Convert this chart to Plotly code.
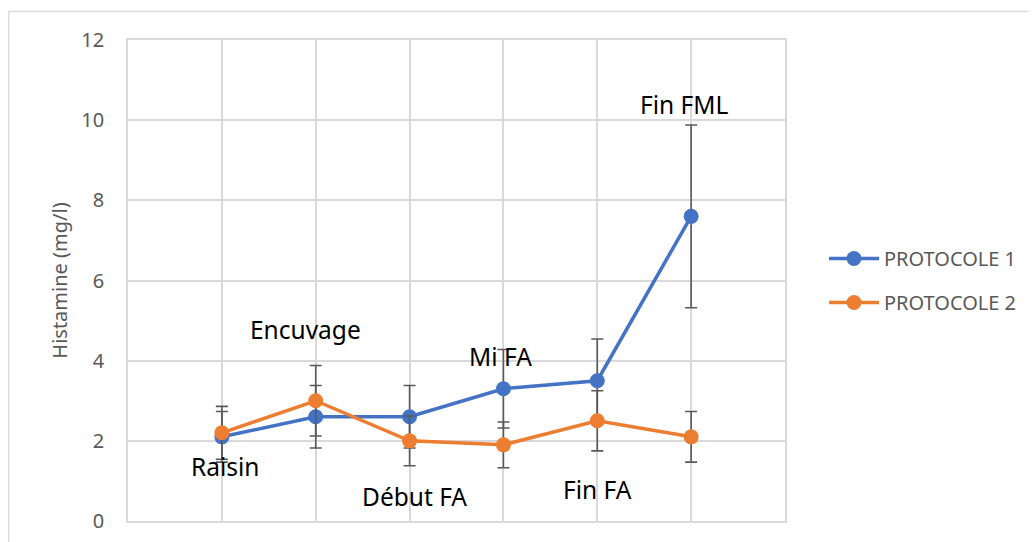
import plotly.graph_objects as go

# ---- data ----
stages = ["Raisin", "Encuvage", "Début FA", "Mi FA", "Fin FA", "Fin FML"]
x_pos = [1, 2, 3, 4, 5, 6]
protocole1 = [2.1, 2.6, 2.6, 3.3, 3.5, 7.6]
protocole1_err = [0.63, 0.78, 0.78, 0.98, 1.04, 2.28]
protocole2 = [2.2, 3.0, 2.0, 1.9, 2.5, 2.1]
protocole2_err = [0.66, 0.88, 0.62, 0.57, 0.75, 0.63]
y_ticks = [0, 2, 4, 6, 8, 10, 12]

# label placement (layout only)
label_y = [1.35, 4.78, 0.6, 4.1, 0.78, 10.4]
label_dx = [4, -10, 5, -3, 0, -7]

FONT = "Noto Sans"
BLUE = "#4472C4"
ORANGE = "#ED7D31"
GRID = "#d9d9d9"
ERR = "#595959"

fig = go.Figure()
for name, vals, errs, col, grp in [
    ("PROTOCOLE 1", protocole1, protocole1_err, BLUE, "g1"),
    ("PROTOCOLE 2", protocole2, protocole2_err, ORANGE, "g2"),
]:
    fig.add_trace(go.Scatter(
        x=x_pos, y=vals, name=name, mode="lines+markers",
        legendgroup=grp,
        line=dict(color=col, width=3.5),
        marker=dict(color=col, size=15),
        error_y=dict(type="data", array=errs, visible=True,
                     color=ERR, thickness=1.6, width=6),
    ))

# page has an 8px body margin; work in figure pixels
OFF_X, OFF_Y = 8, 8
W, H = 1036 - OFF_X, 542 - OFF_Y
L, R, T, B = 128 - OFF_X, 785 - OFF_X, 40 - OFF_Y, 521 - OFF_Y
pw, ph = R - L, B - T

annotations = []
for i, s in enumerate(stages):
    annotations.append(dict(
        x=x_pos[i], y=label_y[i], text=s, showarrow=False,
        xshift=label_dx[i],
        font=dict(family=FONT, size=24.5, color="#000000"),
        xanchor="center", yanchor="middle"))

# outer chart border (left and top edges visible)
bx = (8.5 - OFF_X - L) / pw
by = (B - (11.5 - OFF_Y)) / ph
shapes = [
    dict(type="line", xref="paper", yref="paper", x0=bx, x1=bx, y0=-0.2, y1=by,
         line=dict(color=GRID, width=1.5)),
    dict(type="line", xref="paper", yref="paper", x0=bx, x1=1.5, y0=by, y1=by,
         line=dict(color=GRID, width=1.5)),
]

fig.update_layout(
    width=W, height=H,
    margin=dict(l=L, r=W - R, t=T, b=H - B, pad=0, autoexpand=False),
    paper_bgcolor="white", plot_bgcolor="white",
    font=dict(family=FONT, size=20, color="#595959"),
    showlegend=True,
    legend=dict(x=(824 - OFF_X - L) / pw, y=(B - (239 - OFF_Y)) / ph,
                xanchor="left", yanchor="top", itemwidth=50,
                font=dict(family=FONT, size=20, color="#595959"),
                tracegroupgap=15, bgcolor="rgba(0,0,0,0)"),
    annotations=annotations,
    shapes=shapes,
)
fig.update_xaxes(range=[0, 7], tickmode="linear", tick0=0, dtick=1,
                 showticklabels=False, showgrid=True, gridcolor=GRID, gridwidth=1.5,
                 showline=True, linecolor=GRID, linewidth=1.5, mirror=True,
                 zeroline=False, ticks="", automargin=False)
fig.update_yaxes(range=[0, 12], tickvals=y_ticks, ticktext=[str(v) for v in y_ticks],
                 showgrid=True, gridcolor=GRID, gridwidth=1.5,
                 showline=True, linecolor=GRID, linewidth=1.5, mirror=True,
                 zeroline=False, ticks="", ticklabelstandoff=18, automargin=False,
                 tickfont=dict(family=FONT, size=20, color="#595959"),
                 title=dict(text="Histamine (mg/l)", standoff=8,
                            font=dict(family=FONT, size=20, color="#595959")))

fig.write_html("out.html")
